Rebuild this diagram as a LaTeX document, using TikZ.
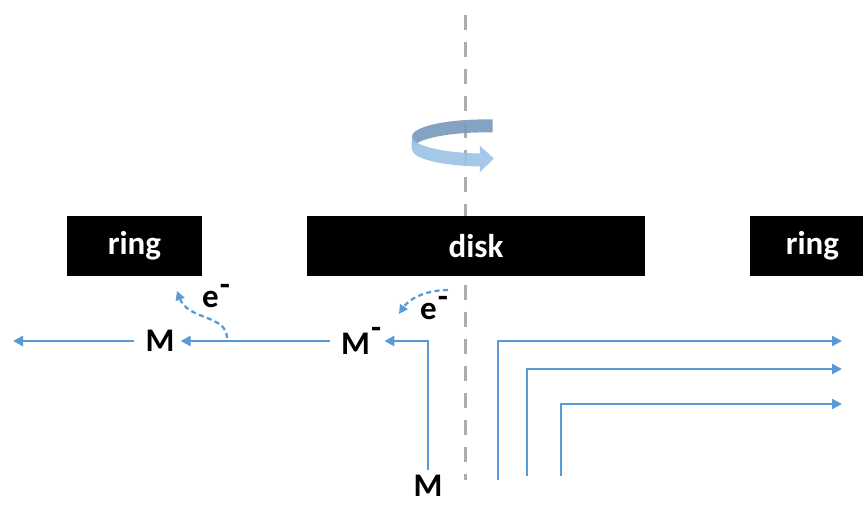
\documentclass[tikz,border=0pt]{standalone}
\usepackage{fontspec}
\setmainfont{Carlito}
\usetikzlibrary{arrows.meta}
\definecolor{flowblue}{RGB}{91,155,213}
\definecolor{axisgray}{RGB}{172,172,172}
\definecolor{ribdark}{RGB}{122,155,190}
\definecolor{riblight}{RGB}{157,195,230}
\tikzset{
  lbl/.style={inner sep=0pt, font=\fontsize{33}{33}\selectfont\bfseries},
  electrode/.style={fill=black, draw=none, minimum height=60pt, inner sep=0pt,
                    text=white, font=\fontsize{33}{33}\selectfont\bfseries},
  flow/.style={draw=flowblue, line width=2.7pt,
               -{Triangle[length=10pt,width=10pt]}},
  eflow/.style={draw=flowblue, line width=2.3pt, dash pattern=on 5pt off 3.5pt,
                -{Triangle[length=9pt,width=9pt]}},
}
\begin{document}
\begin{tikzpicture}[x=1pt,y=1pt]
\useasboundingbox (0,0) rectangle (863,506);

% rotation axis
\coordinate (axtop) at (465,491);
\coordinate (axbot) at (465,26);
\draw[axisgray, line width=3pt, dash pattern=on 15pt off 12pt] (axtop) -- (axbot);

% rotating-electrode ribbon arrow
\fill[ribdark, opacity=0.92] (492.6,386.5) arc[start angle=84,end angle=180,x radius=73,y radius=17]
  -- ++(0,-13) arc[start angle=180,end angle=84,x radius=73,y radius=17] -- cycle;
\fill[riblight, opacity=0.92] (412,369.5) arc[start angle=180,end angle=266,x radius=73,y radius=17]
  -- (480,360) -- (494,347.5) -- (480,334) -- (479.9,339.5)
  arc[start angle=266,end angle=180,x radius=73,y radius=17] -- cycle;

% electrodes
\node[electrode, minimum width=135pt] (ringL) at (134.5,260) {ring};
\node[electrode, minimum width=338pt] (disk) at (476,260) {disk};
\node[electrode, minimum width=125pt] (ringR) at (812.5,260) {ring};

% species labels
\node[lbl] (mL) at (160,165) {M};
\node[lbl, anchor=west] (mMinus) at (341,165) {M\kern1pt\raisebox{0.48em}{-}};
\node[lbl] (mBot) at (428,20) {M};
\node[lbl, anchor=base west] (eL) at (202,198) {e\kern1pt\raisebox{0.38em}{-}};
\node[lbl, anchor=base west] (eR) at (420,186) {e\kern1pt\raisebox{0.38em}{-}};

% transport paths
\coordinate (outL) at (13,165);
\draw[flow, shorten <=11pt] (mL.west) -- (outL);
\draw[flow, shorten <=11pt, shorten >=6pt] (mMinus.west) -- (mL.east);
\draw[flow, shorten <=5pt, shorten >=3pt] (mBot.north) |- (mMinus.east);

\coordinate (s1) at (498,26);   \coordinate (t1) at (842,165);
\coordinate (s2) at (527,30);   \coordinate (t2) at (842,137);
\coordinate (s3) at (561,30);   \coordinate (t3) at (842,102);
\draw[flow] (s1) |- (t1);
\draw[flow] (s2) |- (t2);
\draw[flow] (s3) |- (t3);

% electron transfer
\coordinate (eSrcL) at (227,168);
\coordinate (eDstL) at (177,215);
\draw[eflow] (eSrcL) .. controls (227,191) and (188,186) .. (eDstL);
\coordinate (eSrcR) at (448,216);
\coordinate (eDstR) at (399,192);
\draw[eflow] (eSrcR) .. controls (426,216) and (409,207) .. (eDstR);
\end{tikzpicture}
\end{document}
